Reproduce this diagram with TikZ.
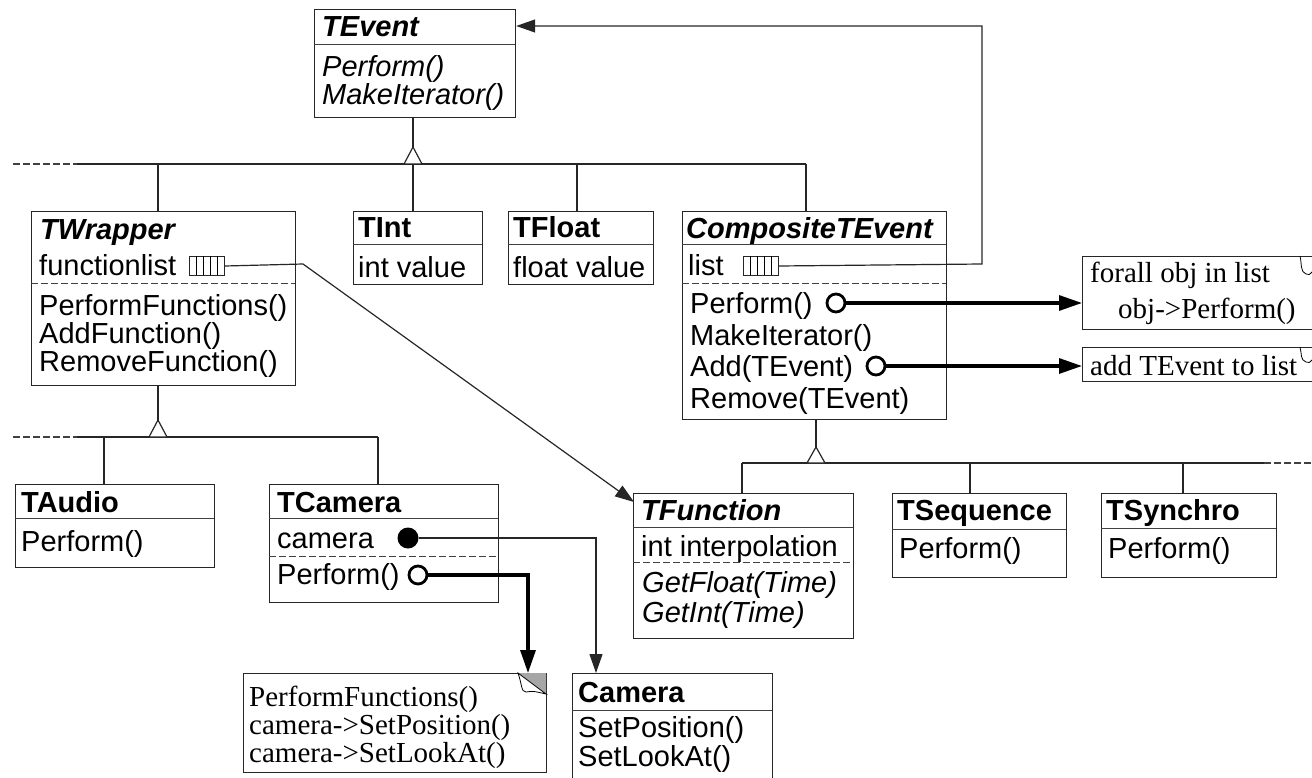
\documentclass[tikz,border=0pt]{standalone}
\usepackage{fontspec}
\setmainfont{Liberation Serif}
\setsansfont{Liberation Sans}
\usetikzlibrary{arrows.meta}
\begin{document}
\begin{tikzpicture}[x=1pt,y=-1pt,
  box/.style={draw=black!85, line width=1.2pt, inner sep=0pt, anchor=north west, fill=white},
  ln/.style={draw=black!85, line width=1.2pt},
  sep/.style={draw=black!75, line width=1pt},
  dsep/.style={draw=black!75, line width=1pt, dash pattern=on 7pt off 3pt},
  thick/.style={draw=black, line width=3.2pt},
  txt/.style={inner sep=0pt, anchor=base west, font=\sffamily\fontsize{29}{29}\selectfont},
  ntxt/.style={inner sep=0pt, anchor=base west, font=\rmfamily\fontsize{29}{29}\selectfont},
  tip/.style={-{Triangle[length=19pt,width=13pt]}},
  thtip/.style={-{Triangle[length=23pt,width=15pt]}},
  inh/.style={draw=black!85, line width=1.2pt, fill=white},
  icon/.style={draw=black!85, line width=1pt, inner sep=0pt, anchor=north west, minimum width=35pt, minimum height=19pt},
  ocirc/.style={circle, draw=black, line width=2.8pt, fill=white, inner sep=0pt, minimum size=18pt},
  fcirc/.style={circle, fill=black, inner sep=0pt, minimum size=21pt}
]
\useasboundingbox (0,0) rectangle (1312,778);
\clip (0,0) rectangle (1312,778);

% ---------- TEvent ----------
\node[box, minimum width=201pt, minimum height=108pt] (tevent) at (314,9) {};
\draw[sep] (314,45) -- (515,45);
\node[txt] (tevent-h) at (322,37) {\bfseries\itshape TEvent};
\node[txt] (tevent-m1) at (322,77) {\itshape Perform()};
\node[txt] (tevent-m2) at (322,105) {\itshape MakeIterator()};

% ---------- first inheritance level ----------
\coordinate (apex1) at (413,147);
\draw[ln] (413,117) -- (apex1);
\draw[dsep, line width=1.2pt] (13,164) -- (77,164);
\draw[ln] (77,164) -- (806,164);
\draw[inh] (apex1) -- (404,164) -- (422,164) -- cycle;

% ---------- TWrapper ----------
\node[box, minimum width=264pt, minimum height=174pt] (twrapper) at (31,211) {};
\draw[ln] (158,164) -- (twrapper.north -| 158,0);
\node[txt] (twrapper-h) at (40,240) {\bfseries\itshape TWrapper};
\node[txt] (twrapper-a) at (39,276) {functionlist};
\node[icon] (flicon) at (189,256) {};
\foreach \x in {196,203,210,217} \draw[line width=0.8pt] (\x,256) -- (\x,275);
\draw[dsep] (31,283) -- (295,283);
\node[txt] (twrapper-m1) at (39,315) {PerformFunctions()};
\node[txt] (twrapper-m2) at (39,343) {AddFunction()};
\node[txt] (twrapper-m3) at (39,371) {RemoveFunction()};

% ---------- TInt ----------
\node[box, minimum width=129pt, minimum height=73pt] (tint) at (353,211) {};
\draw[ln] (413,164) -- (413,211);
\draw[sep] (353,245) -- (482,245);
\node[txt] (tint-h) at (358,238) {\bfseries TInt};
\node[txt] (tint-a) at (358,277) {int value};

% ---------- TFloat ----------
\node[box, minimum width=145pt, minimum height=73pt] (tfloat) at (508,211) {};
\draw[ln] (577,164) -- (577,211);
\draw[sep] (508,245) -- (653,245);
\node[txt] (tfloat-h) at (513,238) {\bfseries TFloat};
\node[txt] (tfloat-a) at (513,277) {float value};

% ---------- CompositeTEvent ----------
\node[box, minimum width=264pt, minimum height=208pt] (comp) at (682,211) {};
\draw[ln] (806,164) -- (806,211);
\draw[sep] (682,245) -- (946,245);
\node[txt] (comp-h) at (686,239) {\bfseries\itshape CompositeTEvent};
\node[txt] (comp-a) at (688,275) {list};
\node[icon] (licon) at (743,256) {};
\foreach \x in {750,757,764,771} \draw[line width=0.8pt] (\x,256) -- (\x,275);
\draw[dsep] (682,283) -- (946,283);
\node[txt] (comp-m1) at (690,313) {Perform()};
\node[txt] (comp-m2) at (690,345) {MakeIterator()};
\node[txt] (comp-m3) at (690,376) {Add(TEvent)};
\node[txt] (comp-m4) at (690,408) {Remove(TEvent)};
\node[ocirc] (perfc) at (836,303) {};
\node[ocirc] (addc) at (876,366) {};

% list -> TEvent
\coordinate (back1) at (982,264);
\coordinate (back2) at (982,26);
\draw[ln, tip] (licon.east) -- (back1) -- (back2) -- (tevent.east |- back2);

% ---------- notes right ----------
\node[box, minimum width=240pt, minimum height=73pt] (note1) at (1082,256) {};
\node[ntxt] (note1-t1) at (1090,282) {forall obj in list};
\node[ntxt] (note1-t2) at (1118,318) {obj->Perform()};
\draw[line width=0.8pt] (1300,256) .. controls (1302,264) and (1300,272) .. (1306,274) .. controls (1309,275) .. (1312,272);
\node[box, minimum width=240pt, minimum height=34pt] (note2) at (1082,347) {};
\node[ntxt] (note2-t1) at (1090,375) {add TEvent to list};
\draw[line width=0.8pt] (1300,347) .. controls (1302,354) and (1300,360) .. (1306,362) .. controls (1309,363) .. (1312,360);

\draw[thick, thtip] (perfc.east) -- (note1.west |- perfc);
\draw[thick, thtip] (addc.east) -- (note2.west |- addc);

% ---------- second inheritance level ----------
\coordinate (apex2) at (158,420);
\draw[ln] (twrapper.south -| apex2) -- (apex2);
\draw[dsep, line width=1.2pt] (13,437) -- (77,437);
\draw[ln] (77,437) -- (378,437);
\draw[inh] (apex2) -- (149,437) -- (167,437) -- cycle;

% ---------- TAudio ----------
\node[box, minimum width=199pt, minimum height=83pt] (taudio) at (15,484) {};
\draw[ln] (104,437) -- (104,484);
\draw[sep] (15,518) -- (214,518);
\node[txt] (taudio-h) at (21,512) {\bfseries TAudio};
\node[txt] (taudio-m) at (21,551) {Perform()};

% ---------- TCamera ----------
\node[box, minimum width=229pt, minimum height=118pt] (tcamera) at (269,484) {};
\draw[ln] (378,437) -- (378,484);
\draw[sep] (269,518) -- (498,518);
\node[txt] (tcamera-h) at (277,512) {\bfseries TCamera};
\node[txt] (tcamera-a) at (277,548) {camera};
\draw[dsep] (269,556) -- (498,556);
\node[txt] (tcamera-m) at (277,584) {Perform()};
\node[fcirc] (camc) at (408,538) {};
\node[ocirc] (tcperf) at (418,575) {};

% ---------- third inheritance level ----------
\coordinate (apex3) at (816,447);
\draw[ln] (comp.south -| apex3) -- (apex3);
\draw[ln] (742,463) -- (1264,463);
\draw[dsep, line width=1.2pt] (1264,463) -- (1312,463);
\draw[inh] (apex3) -- (807,463) -- (825,463) -- cycle;

% ---------- TFunction ----------
\node[box, minimum width=220pt, minimum height=145pt] (tfunc) at (633,493) {};
\draw[ln] (742,463) -- (742,493);
\draw[sep] (633,527) -- (853,527);
\node[txt] (tfunc-h) at (641,520) {\bfseries\itshape TFunction};
\node[txt] (tfunc-a) at (641,556) {int interpolation};
\draw[dsep] (633,562) -- (853,562);
\node[txt] (tfunc-m1) at (642,592) {\itshape GetFloat(Time)};
\node[txt] (tfunc-m2) at (642,622) {\itshape GetInt(Time)};

% ---------- TSequence ----------
\node[box, minimum width=174pt, minimum height=84pt] (tseq) at (892,493) {};
\draw[ln] (970,463) -- (970,493);
\draw[sep] (892,529) -- (1066,529);
\node[txt] (tseq-h) at (897,520) {\bfseries TSequence};
\node[txt] (tseq-m) at (899,558) {Perform()};

% ---------- TSynchro ----------
\node[box, minimum width=175pt, minimum height=84pt] (tsyn) at (1101,493) {};
\draw[ln] (1183,463) -- (1183,493);
\draw[sep] (1101,528) -- (1276,528);
\node[txt] (tsyn-h) at (1106,520) {\bfseries TSynchro};
\node[txt] (tsyn-m) at (1108,558) {Perform()};

% functionlist -> TFunction
\coordinate (fl1) at (303,264);
\draw[ln, tip] (flicon.east) -- (fl1) -- (634,502);

% ---------- Camera ----------
\node[box, minimum width=200pt, minimum height=127pt] (camera) at (572,673) {};
\draw[sep] (572,710) -- (772,710);
\node[txt] (camera-h) at (578,702) {\bfseries Camera};
\node[txt] (camera-m1) at (578,737) {SetPosition()};
\node[txt] (camera-m2) at (578,766) {SetLookAt()};

% ---------- camera note ----------
\node[box, minimum width=303pt, minimum height=99pt] (note3) at (243,673) {};
\node[ntxt] (note3-t1) at (249,706) {PerformFunctions()};
\node[ntxt] (note3-t2) at (249,734) {camera->SetPosition()};
\node[ntxt] (note3-t3) at (249,762) {camera->SetLookAt()};
\fill[black!35] (518,673) -- (546,673) -- (546,694) -- cycle;
\draw[line width=0.8pt, fill=white] (518,673) .. controls (522,684) and (521,692) .. (526,692) .. controls (533,691) .. (546,694) -- cycle;

% connectors from TCamera
\coordinate (cam1) at (596,538);
\draw[ln, tip] (camc.east) -- (cam1) -- (camera.north -| cam1);
\coordinate (tc1) at (528,575);
\draw[thick, thtip] (tcperf.east) -- (tc1) -- (note3.north -| tc1);
\end{tikzpicture}
\end{document}
